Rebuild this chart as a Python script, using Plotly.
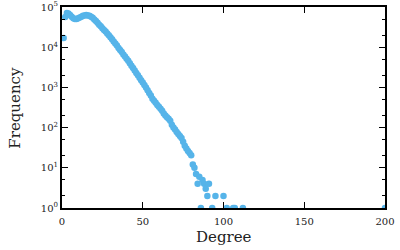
import plotly.graph_objects as go

# degree -> frequency
degrees_main = list(range(1, 81))
log_freq_main = [
    4.23, 4.75, 4.85, 4.84, 4.80, 4.76, 4.72, 4.70, 4.70, 4.72,
    4.74, 4.76, 4.78, 4.79, 4.80, 4.79, 4.78, 4.76, 4.73, 4.69,
    4.65, 4.61, 4.56, 4.52, 4.47, 4.43, 4.39, 4.34, 4.30, 4.25,
    4.20, 4.14, 4.09, 4.04, 3.98, 3.93, 3.88, 3.82, 3.77, 3.71,
    3.66, 3.60, 3.54, 3.48, 3.42, 3.36, 3.30, 3.24, 3.18, 3.12,
    3.06, 3.00, 2.93, 2.86, 2.80, 2.72, 2.67, 2.62, 2.56, 2.52,
    2.47, 2.42, 2.35, 2.30, 2.26, 2.22, 2.17, 2.07, 2.00, 1.95,
    1.89, 1.84, 1.79, 1.74, 1.65, 1.55, 1.48, 1.42, 1.37, 1.31,
]
degrees_tail = [81, 82, 83, 84, 85, 86, 87, 88, 89, 90, 91, 93, 95, 100, 102, 106, 107, 112, 200]
freq_tail = [12, 10, 7, 4, 6, 1, 5, 4, 3, 2, 4, 1, 2, 2, 1, 1, 1, 1, 1]

frequency = [10 ** v for v in log_freq_main] + freq_tail
degree = degrees_main + degrees_tail

x_ticks = [0, 50, 100, 150, 200]
y_ticks = [1, 10, 100, 1000, 10000, 100000]
y_ticktext = ["10<sup>0</sup>", "10<sup>1</sup>", "10<sup>2</sup>",
              "10<sup>3</sup>", "10<sup>4</sup>", "10<sup>5</sup>"]

fig = go.Figure()
fig.add_trace(go.Scatter(
    x=degree, y=frequency, mode="markers",
    marker=dict(size=6.5, color="#56B4E9", line=dict(width=0)),
    showlegend=False,
))

font_family = "DejaVu Serif"
fig.update_layout(
    width=400, height=250,
    margin=dict(l=62, r=15, t=7, b=42, autoexpand=False),
    paper_bgcolor="white", plot_bgcolor="white",
    font=dict(family=font_family, color="#222", size=11),
)
fig.update_xaxes(
    range=[0, 200], tickvals=x_ticks, ticks="inside", ticklen=6, tickwidth=1,
    tickcolor="black", showline=True, linewidth=2, linecolor="black",
    mirror="ticks", showgrid=False, zeroline=False, automargin=False,
    ticklabelstandoff=3,
    tickfont=dict(size=10, family=font_family),
)
fig.update_yaxes(
    type="log", range=[0, 5], tickvals=y_ticks, ticktext=y_ticktext,
    ticks="inside", ticklen=6, tickwidth=1, tickcolor="black",
    showline=True, linewidth=2, linecolor="black", mirror="ticks",
    showgrid=False, zeroline=False, automargin=False,
    minor=dict(ticks="inside", ticklen=3, tickcolor="black", showgrid=False),
    tickfont=dict(size=10, family=font_family),
)
fig.add_annotation(text="Degree", x=0.5, y=-0.145, xref="paper", yref="paper",
                   xanchor="center", yanchor="middle", showarrow=False,
                   font=dict(size=15, family=font_family, color="#222"))
fig.add_annotation(text="Frequency", x=-0.148, y=0.5, xref="paper", yref="paper",
                   xanchor="center", yanchor="middle", textangle=-90, showarrow=False,
                   font=dict(size=15, family=font_family, color="#222"))

# remove the default 8px body margin so the figure fills the window exactly
fig.write_html("out.html", config={"displayModeBar": False},
               post_script="document.body.style.margin='0px';")
